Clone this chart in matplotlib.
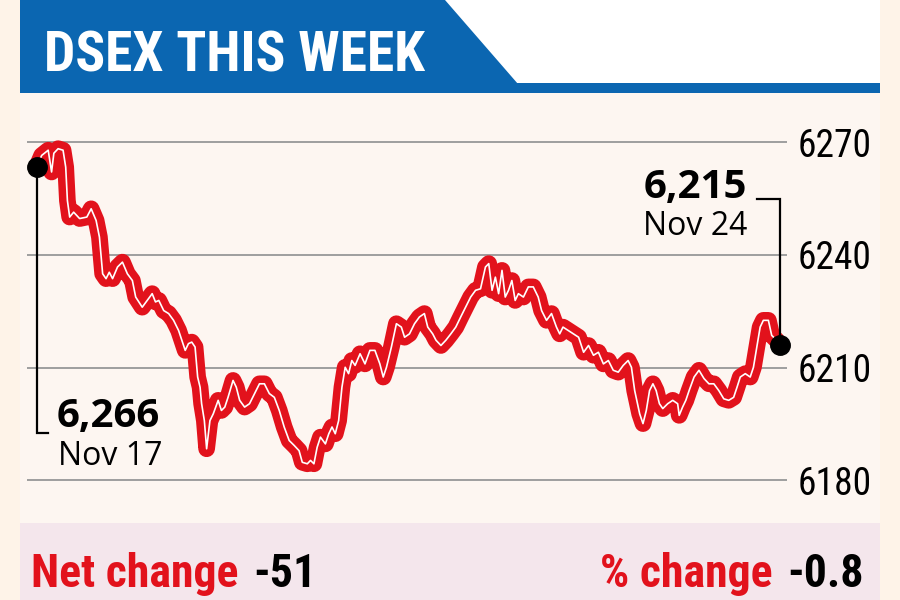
import matplotlib
matplotlib.use("Agg")
import matplotlib.pyplot as plt
from matplotlib.patches import Polygon, Rectangle

# ---------------- data ----------------
title = "DSEX THIS WEEK"
t = [0, 0.67, 1.56, 2.02, 2.33, 2.91, 3.58, 3.94, 4.17, 4.48,
     5.02, 5.83, 6.81, 7.40, 8.07, 8.52, 8.96, 9.42, 9.86, 10.31,
     10.98, 11.65, 12.32, 13.00, 13.45, 14.34, 15.01, 15.69, 16.14, 16.59,
     17.26, 17.93, 18.60, 19.28, 19.72, 20.18, 20.62, 21.07, 21.52, 21.87,
     22.20, 22.41, 22.78, 23.09, 23.54, 23.99, 24.66, 25.10, 25.56, 26.00,
     26.68, 27.12, 27.58, 28.25, 28.92, 29.60, 30.27, 30.94, 31.61, 32.29,
     32.96, 33.63, 34.31, 34.98, 35.65, 36.09, 36.77, 37.21, 37.67, 38.11,
     38.56, 39.23, 39.69, 40.13, 40.57, 41.03, 41.48, 41.92, 42.38, 42.82,
     43.27, 43.94, 44.61, 45.28, 45.96, 46.63, 47.09, 47.53, 48.20, 48.88,
     49.55, 49.99, 50.66, 51.34, 52.01, 52.68, 53.14, 53.81, 54.26, 54.93,
     55.60, 56.28, 56.95, 57.62, 58.29, 58.97, 59.64, 60.31, 60.98, 61.43,
     61.88, 62.33, 62.77, 63.23, 63.67, 64.12, 64.57, 65.02, 65.46, 66.14,
     66.81, 67.48, 68.15, 68.61, 69.28, 69.96, 70.63, 71.07, 71.52, 73.64,
     74.32, 74.99, 75.66, 76.33, 77.01, 77.68, 78.35, 79.03, 79.70, 80.37,
     80.82, 81.26, 81.94, 82.39, 82.84, 83.28, 83.74, 84.18, 84.62, 85.08,
     85.75, 86.43, 87.10, 87.31, 87.77, 88.21, 88.66, 89.33, 90.00, 90.68,
     91.35, 92.02, 92.69, 93.37, 94.04, 94.71, 95.17, 95.61, 96.29, 96.96,
     97.40, 97.86, 98.31, 98.75, 99.43, 99.88, 100.55, 101.0]
dsex = [6263.4, 6266.5, 6267.9, 6262.1, 6267.1, 6268.3, 6267.9, 6263.4, 6254.5, 6250.1,
        6251.4, 6249.7, 6250.1, 6252.3, 6249.2, 6244.8, 6235.0, 6233.7, 6235.4, 6233.7,
        6236.8, 6238.1, 6235.0, 6233.2, 6228.8, 6226.1, 6227.9, 6229.7, 6227.5, 6227.9,
        6225.2, 6224.4, 6222.6, 6219.9, 6217.3, 6214.6, 6216.4, 6216.8, 6215.5, 6207.5,
        6204.8, 6200.4, 6195.9, 6188.4, 6195.9, 6197.7, 6201.3, 6198.6, 6199.5, 6202.1,
        6206.6, 6204.8, 6201.3, 6199.5, 6200.4, 6203.1, 6205.7, 6205.7, 6203.1, 6202.1,
        6198.6, 6194.2, 6190.6, 6189.3, 6187.9, 6184.8, 6184.4, 6185.3, 6184.4, 6188.8,
        6191.5, 6189.7, 6192.4, 6194.2, 6192.4, 6195.9, 6204.8, 6210.1, 6208.4, 6211.9,
        6210.6, 6213.7, 6211.0, 6214.6, 6214.6, 6211.0, 6207.5, 6210.1, 6215.5, 6221.7,
        6220.8, 6218.1, 6219.0, 6221.7, 6223.5, 6224.4, 6220.8, 6219.0, 6217.3, 6215.9,
        6217.3, 6219.0, 6220.8, 6223.5, 6226.1, 6228.8, 6230.6, 6231.0, 6236.8, 6237.7,
        6230.6, 6234.1, 6229.7, 6235.9, 6228.8, 6230.6, 6233.2, 6227.9, 6229.7, 6228.8,
        6231.5, 6231.5, 6228.8, 6225.2, 6222.6, 6224.4, 6220.8, 6219.0, 6220.8, 6218.1,
        6214.1, 6215.9, 6213.3, 6214.1, 6211.0, 6211.9, 6209.3, 6208.8, 6210.6, 6211.9,
        6210.1, 6203.9, 6197.7, 6195.1, 6198.6, 6203.9, 6205.7, 6203.9, 6200.4, 6199.1,
        6200.4, 6201.3, 6200.4, 6197.3, 6199.5, 6201.3, 6203.9, 6207.5, 6209.3, 6207.1,
        6205.7, 6205.7, 6203.9, 6201.7, 6201.3, 6202.1, 6204.8, 6207.5, 6208.4, 6207.5,
        6210.1, 6215.5, 6220.8, 6222.6, 6222.6, 6218.6, 6217.3, 6215.9]
yticks = [6180, 6210, 6240, 6270]
start_value, start_date = "6,266", "Nov 17"
end_value, end_date = "6,215", "Nov 24"
net_label, net_value = "Net change", "-51"
pct_label, pct_value = "% change", "-0.8"

# ---------------- style ----------------
BLUE = "#0B66B1"
RED = "#E2121C"
OUTER = "#FEF3E8"
INNER = "#FDF6F1"
BAND = "#F4E6EC"
GRID = "#9E9E9E"
NARROW = ["Liberation Sans Narrow", "Roboto Condensed", "DejaVu Sans"]
HUMAN = ["Open Sans", "DejaVu Sans"]

W, H = 900, 600
fig = plt.figure(figsize=(9, 6), dpi=100, facecolor=OUTER)

# background / decoration axes in pixel coordinates (origin top-left)
bg = fig.add_axes([0, 0, 1, 1], zorder=0)
bg.set_xlim(0, W)
bg.set_ylim(H, 0)
bg.axis("off")
bg.add_patch(Rectangle((20, 93), 860, 430, color=INNER, lw=0))
bg.add_patch(Rectangle((20, 523), 860, 77, color=BAND, lw=0))
bg.add_patch(Rectangle((445, 0), 435, 84, color="white", lw=0))
bg.add_patch(Polygon([(20, 0), (445, 0), (518, 84), (20, 84)], closed=True, color=BLUE, lw=0))
bg.add_patch(Rectangle((20, 83), 860, 10, color=BLUE, lw=0))
bg.text(44, 72, title, color="white", fontsize=40, fontweight="bold",
        family=NARROW, va="baseline", ha="left")

# main chart axes
ax = fig.add_axes([27 / W, 0.18, 760 / W, 362 / H], zorder=1)
ax.patch.set_alpha(0)
ax.set_xlim(-1.32, 101.96)
ax.set_ylim(6176.89, 6273.28)
for s in ax.spines.values():
    s.set_visible(False)
ax.set_xticks([])
ax.set_yticks(yticks)
ax.yaxis.tick_right()
ax.tick_params(axis="y", length=0, pad=8, labelsize=27)
for lab in ax.get_yticklabels():
    lab.set_family(NARROW)
ax.yaxis.grid(True, color=GRID, lw=1.4)
ax.set_axisbelow(True)

ax.plot(t, dsex, color=RED, linewidth=12, solid_joinstyle="round",
        solid_capstyle="round", clip_on=False, zorder=3)
ax.plot(t, dsex, color="white", linewidth=1.2, solid_joinstyle="round",
        clip_on=False, zorder=4)
ax.plot([t[0], t[-1]], [dsex[0], dsex[-1]], "o", color="black", markersize=14,
        clip_on=False, zorder=6)

# annotation brackets (pixel space, anchored to the end-point dots)
fig.canvas.draw()
def to_px(x, y):
    d = ax.transData.transform((x, y))
    return d[0], H - d[1]

sx, sy = to_px(t[0], dsex[0])
ex, ey = to_px(t[-1], dsex[-1])
ax.plot([sx, sx, sx + 11], [sy, 433, 433], color="black", lw=1.6,
        transform=bg.transData, clip_on=False, zorder=5, solid_joinstyle="miter")
ax.plot([ex, ex, ex - 23], [ey, 199, 199], color="black", lw=1.6,
        transform=bg.transData, clip_on=False, zorder=5, solid_joinstyle="miter")

bg.text(sx + 20, 427, start_value, fontsize=29, fontweight="bold",
        family=HUMAN, va="baseline", ha="left", color="black")
bg.text(sx + 21, 465, start_date, fontsize=23, family=HUMAN,
        va="baseline", ha="left", color="black")
bg.text(ex - 33, 198, end_value, fontsize=29, fontweight="bold",
        family=HUMAN, va="baseline", ha="right", color="black")
bg.text(ex - 33, 235, end_date, fontsize=23, family=HUMAN,
        va="baseline", ha="right", color="black")

# bottom band
r = fig.canvas.get_renderer()
BS = 33
t1 = bg.text(31, 587, net_label, color=RED, fontsize=BS, fontweight="bold",
             family=NARROW, va="baseline", ha="left")
w1 = t1.get_window_extent(r).width
bg.text(31 + w1 + 15, 587, net_value, color="black", fontsize=BS,
        fontweight="bold", family=NARROW, va="baseline", ha="left")
t4 = bg.text(864, 587, pct_value, color="black", fontsize=BS, fontweight="bold",
             family=NARROW, va="baseline", ha="right")
w4 = t4.get_window_extent(r).width
bg.text(864 - w4 - 15, 587, pct_label, color=RED, fontsize=BS,
        fontweight="bold", family=NARROW, va="baseline", ha="right")

fig.savefig("out.png", dpi=100, facecolor=OUTER)
